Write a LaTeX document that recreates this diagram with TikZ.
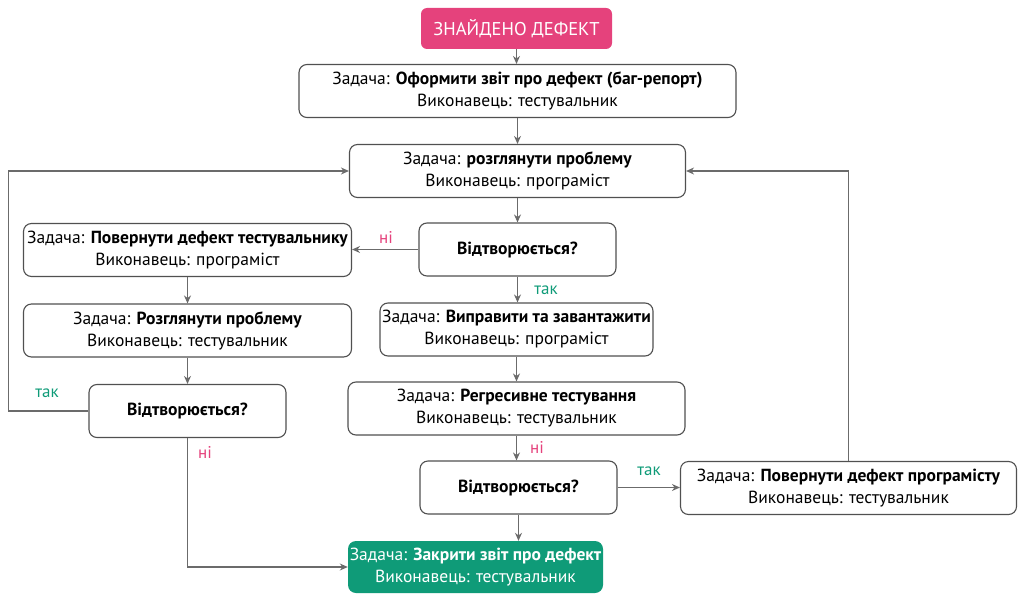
\documentclass[tikz,border=0pt]{standalone}
\usepackage{fontspec}
\setmainfont{PT Sans}
\usetikzlibrary{arrows.meta}
\definecolor{pinkc}{HTML}{E5427C}
\definecolor{greenc}{HTML}{0F9B78}
\definecolor{linec}{HTML}{6B6B6B}
\definecolor{borderc}{HTML}{505050}
\begin{document}
\begin{tikzpicture}[x=1pt,y=-1pt,
  box/.style={draw=borderc, line width=1.1pt, rounded corners=8pt, fill=white, align=center,
    font=\fontsize{17.5}{22}\selectfont, inner sep=0pt, minimum height=53pt},
  start/.style={fill=pinkc, rounded corners=6pt, text=white, inner sep=0pt,
    font=\fontsize{18.5}{20}\selectfont, minimum width=191pt, minimum height=41pt},
  finish/.style={fill=greenc, rounded corners=8pt, text=white, align=center, inner sep=0pt,
    font=\fontsize{17.5}{22}\selectfont, minimum width=255pt, minimum height=52pt},
  arr/.style={draw=linec, line width=1.1pt, -{Stealth[length=8pt,width=7pt]}},
  nolab/.style={text=pinkc, font=\fontsize{17}{18}\selectfont, inner sep=0pt},
  yeslab/.style={text=greenc, font=\fontsize{17}{18}\selectfont, inner sep=0pt}
]
\useasboundingbox (0,0) rectangle (1024,599);

\node[start] (top) at (516.5,28.5) {ЗНАЙДЕНО ДЕФЕКТ};
\node[box, minimum width=437pt] (b1) at (517.5,91) {Задача: \textbf{Оформити звіт про дефект (баг-репорт)}\\Виконавець: тестувальник};
\node[box, minimum width=336pt] (b2) at (517.5,171) {Задача: \textbf{розглянути проблему}\\Виконавець: програміст};
\node[box, minimum width=197pt] (d1) at (517.5,249.5) {\textbf{Відтворюється?}};
\node[box, minimum width=328pt] (l1) at (187.5,250) {Задача: \textbf{Повернути дефект тестувальнику}\\Виконавець: програміст};
\node[box, minimum width=328pt] (l2) at (187.5,330.5) {Задача: \textbf{Розглянути проблему}\\Виконавець: тестувальник};
\node[box, minimum width=197pt] (ld) at (187.5,411) {\textbf{Відтворюється?}};
\node[box, minimum width=273pt] (m1) at (516.5,329.5) {Задача: \textbf{Виправити та завантажити}\\Виконавець: програміст};
\node[box, minimum width=337pt] (m2) at (516.5,408.5) {Задача: \textbf{Регресивне тестування}\\Виконавець: тестувальник};
\node[box, minimum width=197pt] (d3) at (518.5,487.5) {\textbf{Відтворюється?}};
\node[box, minimum width=336pt] (r1) at (848.5,488) {Задача: \textbf{Повернути дефект програмісту}\\Виконавець: тестувальник};
\node[finish] (fin) at (475.5,567) {Задача: \textbf{Закрити звіт про дефект}\\Виконавець: тестувальник};

\coordinate (lc) at (8.5,411);

\draw[arr] (top.south) -- (top.south |- b1.north);
\draw[arr] (b1.south -| b2.north) -- (b2.north);
\draw[arr] (b2.south) -- (b2.south |- d1.north);
\draw[arr] (d1.west) -- (d1.west -| l1.east);
\draw[arr] (d1.south) -- (d1.south |- m1.north);
\draw[arr] (l1.south) -- (l2.north);
\draw[arr] (l2.south) -- (ld.north);
\draw[arr] (ld.west) -- (lc) |- (b2.west);
\draw[arr] (ld.south) |- (fin.west);
\draw[arr] (m1.south) -- (m2.north);
\draw[arr] (m2.south) -- (m2.south |- d3.north);
\draw[arr] (d3.east) -- (d3.east -| r1.west);
\draw[arr] (r1.north) |- (b2.east);
\draw[arr] (d3.south) -- (d3.south |- fin.north);

\node[nolab] (n1) at (386,237) {ні};
\node[yeslab] (y1) at (546,290) {так};
\node[yeslab] (y2) at (47,393) {так};
\node[nolab] (n2) at (205,452) {ні};
\node[nolab] (n3) at (537,447) {ні};
\node[yeslab] (y3) at (649,471) {так};
\end{tikzpicture}
\end{document}
